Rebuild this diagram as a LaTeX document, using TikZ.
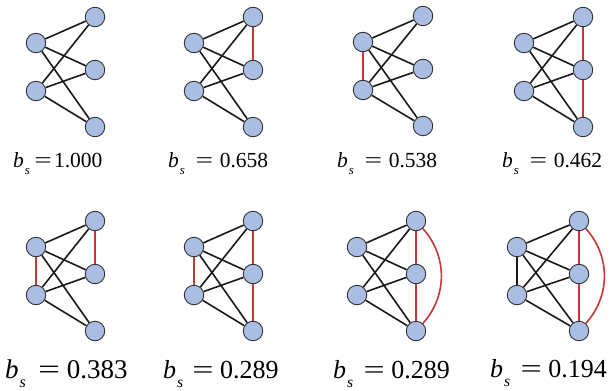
\documentclass[tikz,border=0pt]{standalone}
\usepackage{fontspec}
\setmainfont{Liberation Serif}
\definecolor{nodeblue}{RGB}{170,190,228}
\definecolor{edgered}{RGB}{200,55,55}
\newcommand{\bsym}{\textit{b}\kern1pt\raisebox{-0.36em}{\scalebox{0.6}{\textit{s}}}}
\newcommand{\wideeq}{\scalebox{1.45}[1]{=}}

\begin{document}
\begin{tikzpicture}[x=1pt, y=-1pt,
    vtx/.style={circle, draw=black!80, fill=nodeblue, line width=0.9pt, minimum size=19.5pt, inner sep=0pt},
    edge/.style={line width=1.6pt, black!90},
    redge/.style={line width=1.6pt, edgered},
    toplbl/.style={anchor=base west, inner sep=0pt, font=\fontsize{21.5}{24}\selectfont},
    botlbl/.style={anchor=base west, inner sep=0pt, font=\fontsize{26}{28}\selectfont}]
    \useasboundingbox (0,0) rectangle (611,391);
    % the eight K_{2,3} graphs
    \foreach \g/\l/\r/\y in {a/36/95/17, b/194/253/17, c/363/423/16, d/524/583/17,
                             e/36/95/221, f/194/253/221, g/357/416/221, h/517/579/221} {
        \node[vtx] (\g-l1) at (\l,\y+26) {};
        \node[vtx] (\g-l2) at (\l,\y+74) {};
        \node[vtx] (\g-r1) at (\r,\y) {};
        \node[vtx] (\g-r2) at (\r,\y+53) {};
        \node[vtx] (\g-r3) at (\r,\y+110) {};
        \foreach \p in {l1,l2}
            \foreach \q in {r1,r2,r3}
                \draw[edge] (\g-\p) -- (\g-\q);
    }
    % added edges
    \draw[redge] (b-r1) -- (b-r2);
    \draw[redge] (c-l1) -- (c-l2);
    \draw[redge] (d-r1) -- (d-r2);
    \draw[redge] (d-r2) -- (d-r3);
    \draw[redge] (e-l1) -- (e-l2);
    \draw[redge] (e-r1) -- (e-r2);
    \draw[redge] (f-l1) -- (f-l2);
    \draw[redge] (f-r1) -- (f-r2);
    \draw[redge] (f-r2) -- (f-r3);
    \draw[redge] (g-r1) -- (g-r2);
    \draw[redge] (g-r2) -- (g-r3);
    \draw[redge] (g-r1) to[bend left=42] (g-r3);
    \draw[edge] (h-l1) -- (h-l2);
    \draw[redge] (h-r1) -- (h-r2);
    \draw[redge] (h-r2) -- (h-r3);
    \draw[redge] (h-r1) to[bend left=42] (h-r3);
    % values
    \node[toplbl] (a-bs) at (13,167) {\bsym\hspace{0.2em}\wideeq\hspace{0.1em}1.000};
    \node[toplbl] (b-bs) at (168,167) {\bsym\hspace{0.5em}\wideeq\hspace{0.3em}0.658};
    \node[toplbl] (c-bs) at (337,167) {\bsym\hspace{0.5em}\wideeq\hspace{0.3em}0.538};
    \node[toplbl] (d-bs) at (502,167) {\bsym\hspace{0.5em}\wideeq\hspace{0.3em}0.462};
    \node[botlbl, font=\fontsize{27}{30}\selectfont] (e-bs) at (5,378) {\bsym\hspace{0.45em}\wideeq\hspace{0.25em}0.383};
    \node[botlbl] (f-bs) at (163,378) {\bsym\hspace{0.35em}\wideeq\hspace{0.25em}0.289};
    \node[botlbl] (g-bs) at (333,378) {\bsym\hspace{0.4em}\wideeq\hspace{0.25em}0.289};
    \node[botlbl] (h-bs) at (490,377) {\bsym\hspace{0.4em}\wideeq\hspace{0.25em}0.194};
\end{tikzpicture}
\end{document}
